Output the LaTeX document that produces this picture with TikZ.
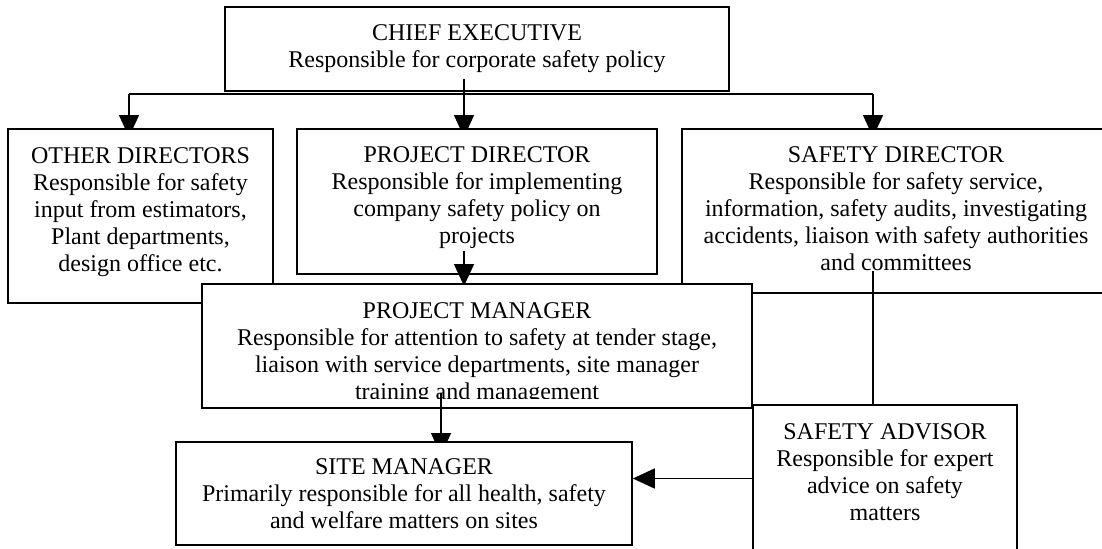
\documentclass[tikz,border=0pt]{standalone}
\usepackage{fontspec}
\setmainfont{Liberation Serif}
\usetikzlibrary{arrows.meta,calc,positioning}

% struts to push the text of a box down (taller first line) or up (deeper last line)
\newcommand{\pushdown}[1]{\rule{0pt}{#1}}
\newcommand{\pushup}[1]{\rule[-#1]{0pt}{0pt}}

\begin{document}
\begin{tikzpicture}[
    x=0.5pt,
    y=-0.5pt,
    >={Triangle[length=11pt, width=10pt]},
    post/.style={draw, fill=white, line width=0.8pt, align=center, inner sep=0pt, font=\fontsize{12}{13.5}\selectfont},
    line/.style={line width=0.75pt},
    arrow/.style={->, line width=0.75pt}
]
\clip (0,0) rectangle (1102,548);

% top of the tree
\node[post, minimum width=252pt, minimum height=42pt] (chief) at (477,49) {CHIEF EXECUTIVE\\Responsible for corporate safety policy};

\coordinate (busL) at (129,94);
\coordinate (busM) at (464,94);
\coordinate (busR) at (873,94);
\coordinate (drop) at (441,393);

% arrow heads run into the boxes below and get covered by them
\draw[line] (busL) -- (busR);
\draw[arrow] (busL) -- ($(busL |- 0,129)+(0,8)$);
\draw[arrow] (busR) -- ($(busR |- 0,129)+(0,8)$);
\draw[arrow] ($(chief.south -| busM)+(0,-13)$) -- ($(busM |- 0,129)+(0,8)$);

% directors
\node[post, minimum width=132.5pt, minimum height=87pt] (other) at (140.5,216) {OTHER DIRECTORS\\Responsible for safety\\input from estimators,\\Plant departments,\\design office etc.\pushup{6.6pt}};
\node[post, minimum width=180pt, minimum height=72.5pt] (projdir) at (477,201.5) {PROJECT DIRECTOR\\Responsible for implementing\\company safety policy on\\projects\pushup{6pt}};
\node[post, minimum width=214pt, minimum height=82pt] (safety) at (896,211) {SAFETY DIRECTOR\\Responsible for safety service,\\information, safety audits, investigating\\accidents, liaison with safety authorities\\and committees\pushup{2pt}};

\draw[arrow] ($(projdir.south -| busM)+(0,-24)$) -- ($(busM |- 0,284)+(0,2)$);
\draw[line] ($(safety.south -| busR)+(0,-23)$) -- (busR |- 0,405);

% managers
\node[post, minimum width=275pt, minimum height=62pt] (pm) at (477,346) {\pushdown{16pt}PROJECT MANAGER\\Responsible for attention to safety at tender stage,\\liaison with service departments, site manager\\training and management};
\fill[white] ($(pm.south west)+(2,-2.5)$) rectangle ($(pm.south east)+(-2,-9.5)$);

\draw[arrow] (drop) -- (drop |- 0,455);

\node[post, minimum width=228pt, minimum height=51.5pt] (site) at (404,493.5) {SITE MANAGER\\Primarily responsible for all health, safety\\and welfare matters on sites};
\node[post, minimum width=132pt, minimum height=73.5pt] (advisor) at (885,478.5) {SAFETY ADVISOR\\Responsible for expert\\advice on safety\\matters\pushup{6pt}};

\draw[arrow] (advisor.west) -- (advisor.west -| site.east);
\end{tikzpicture}
\end{document}
